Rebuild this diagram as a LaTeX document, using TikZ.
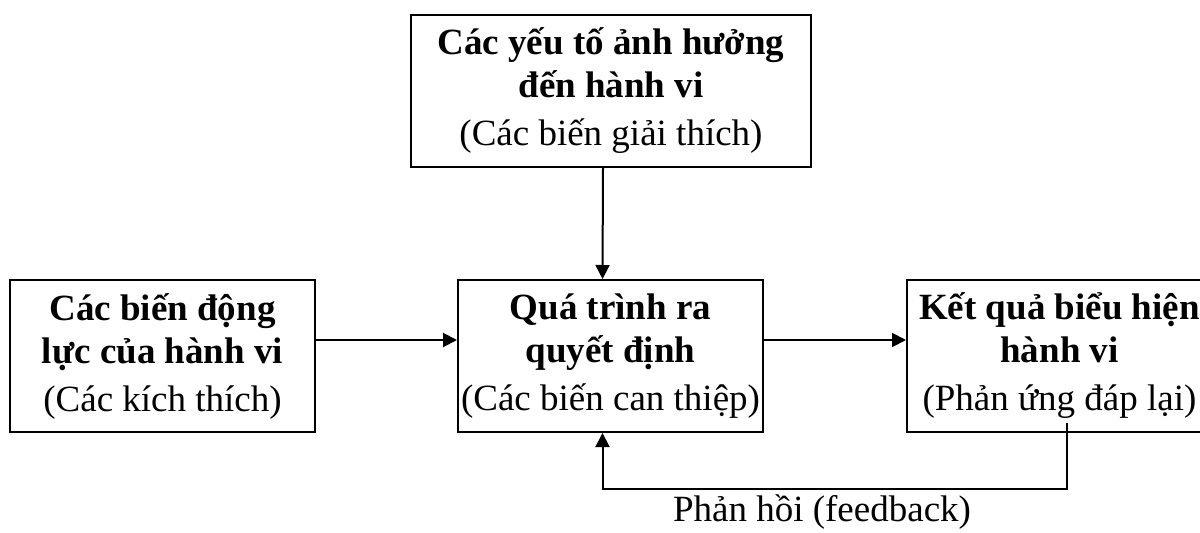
\documentclass[tikz,border=0pt]{standalone}
\usepackage{fontspec}
\setmainfont{Liberation Serif}
\usetikzlibrary{arrows.meta}
\begin{document}
\begin{tikzpicture}[x=1pt,y=1pt,
  box/.style={draw,line width=2pt,minimum height=152pt,inner sep=0pt,align=center,
    font=\fontsize{37}{43}\selectfont},
  arr/.style={line width=2pt,-{Triangle[length=14pt,width=14pt]}},
  lbl/.style={font=\fontsize{37}{43}\selectfont,inner sep=0pt}]
\useasboundingbox (0,0) rectangle (1200,-533);
\node[box,minimum width=400pt] (top) at (611,-91)
  {\textbf{Các yếu tố ảnh hưởng}\\\textbf{đến hành vi}\\[5pt](Các biến giải thích)};
\node[box,minimum width=305pt] (left) at (162.5,-356)
  {\textbf{Các biến động}\\\textbf{lực của hành vi}\\[5pt](Các kích thích)};
\node[box,minimum width=305pt] (mid) at (610.5,-356)
  {\textbf{Quá trình ra}\\\textbf{quyết định}\\[5pt](Các biến can thiệp)};
\node[box,minimum width=305pt] (right) at (1059.5,-356)
  {\textbf{Kết quả biểu hiện}\\\textbf{hành vi}\\[5pt](Phản ứng đáp lại)};
\coordinate (fbstart) at (1067,-423);
\draw[arr] ([xshift=-8pt]top.south) -- ([xshift=-8pt]mid.north);
\draw[arr] ([yshift=16pt]left.east) -- ([yshift=16pt]mid.west);
\draw[arr] ([yshift=16pt]mid.east) -- ([yshift=16pt]right.west);
\draw[arr] (fbstart) |- ([xshift=-8pt,yshift=-56pt]mid.south) -- ([xshift=-8pt]mid.south);
\node[lbl,anchor=base] (fblabel) at (822,-521) {Phản hồi (feedback)};
\end{tikzpicture}
\end{document}
